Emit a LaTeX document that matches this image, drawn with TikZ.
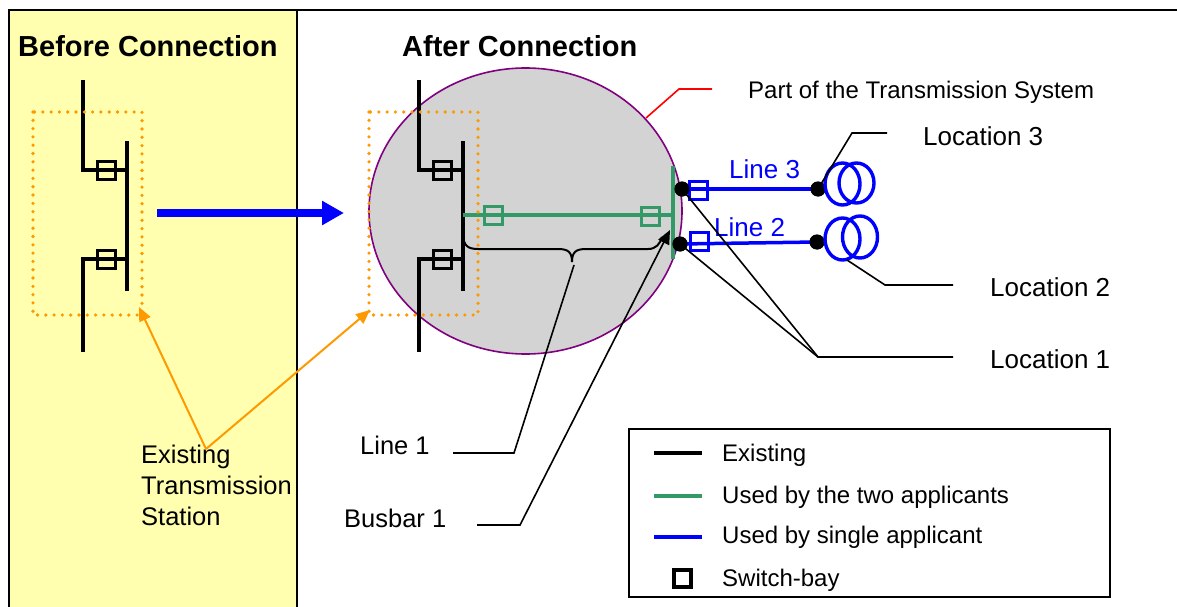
\documentclass[tikz,border=0pt]{standalone}
\usepackage{fontspec}
\setmainfont{Liberation Sans}
\usetikzlibrary{arrows.meta}
\definecolor{panelyellow}{RGB}{255,255,175}
\definecolor{tsgray}{RGB}{211,211,211}
\definecolor{tspurple}{RGB}{128,0,128}
\definecolor{usegreen}{RGB}{51,153,102}
\definecolor{exorange}{RGB}{255,153,0}
\begin{document}
\begin{tikzpicture}[x=1pt,y=-1pt,
  txt/.style={inner sep=0pt, anchor=base west, font=\fontsize{24}{31}\selectfont},
  midtxt/.style={inner sep=0pt, anchor=base west, font=\fontsize{25.5}{31}\selectfont},
  bigtxt/.style={inner sep=0pt, anchor=base west, font=\fontsize{26}{31}\selectfont},
  headtxt/.style={inner sep=0pt, anchor=base west, font=\fontsize{29}{35}\selectfont\bfseries},
  swb/.style={draw, line width=3pt, minimum width=18pt, minimum height=18pt, inner sep=0pt},
  swg/.style={swb, draw=usegreen},
  swu/.style={swb, draw=blue},
  exline/.style={line width=3.2pt},
  grline/.style={draw=usegreen, line width=3.5pt},
  buline/.style={draw=blue, line width=3.5pt},
  leader/.style={line width=1.6pt},
  dotbox/.style={draw=exorange, line width=3.6pt, line cap=round, dash pattern=on 0pt off 8.3pt},
  bigdot/.style={circle, fill=black, inner sep=0pt, minimum size=15pt},
  coil/.style={draw=blue, line width=3.4pt}
]
\useasboundingbox (0,0) rectangle (1177,607);
% panels and frame
\fill[panelyellow] (9,10) rectangle (297,607);
\draw[line width=2pt] (9,607) -- (9,10) -- (1177,10);
\draw[line width=2pt] (297,10) -- (297,607);

% headings
\node[headtxt] (hbefore) at (18,57) {Before Connection};
\node[headtxt] (hafter) at (402,57) {After Connection};

% transmission system ellipse
\draw[fill=tsgray, draw=tspurple, line width=1.6pt] (525.5,211) ellipse [x radius=156.5, y radius=143];

% station circuits (before and after)
\foreach \dx/\p in {0/b,336/a}{
  \begin{scope}[xshift=\dx]
    \coordinate (\p-t1) at (83,80);
    \coordinate (\p-t2) at (83,170);
    \coordinate (\p-t3) at (127,170);
    \coordinate (\p-l1) at (83,352);
    \coordinate (\p-l2) at (83,259);
    \coordinate (\p-l3) at (127,259);
    \coordinate (\p-bus1) at (127,141);
    \coordinate (\p-bus2) at (127,291);
    \draw[exline] (\p-t1) -- (\p-t2) -- (\p-t3);
    \draw[exline] (\p-l1) -- (\p-l2) -- (\p-l3);
    \draw[exline] (\p-bus1) -- (\p-bus2);
    \node[swb] (\p-sw1) at (106,170) {};
    \node[swb] (\p-sw2) at (106,259.5) {};
  \end{scope}
}

% green shared connection
\coordinate (gL) at (463,215);
\coordinate (gR) at (673,215);
\coordinate (gb1) at (673,166);
\coordinate (gb2) at (673,259);
\draw[grline] (gL) -- (gR);
\draw[grline] (gb1) -- (gb2);
\node[swg] (gsw1) at (493,215) {};
\node[swg] (gsw2) at (650,216) {};

% orange dotted station boxes
\draw[dotbox] (33,112) rectangle (142,315);
\draw[dotbox] (369,112) rectangle (478,315);

% brace (Line 1)
\draw[line width=2pt] (463,233) .. controls (463,246) and (468,249) .. (478,249) -- (558,249)
  .. controls (568,249) and (572,252) .. (572,262)
  .. controls (572,252) and (576,249) .. (586,249) -- (648,249)
  .. controls (656,249) and (660,244) .. (662,237);

% blue lines
\node[bigdot] (d3a) at (682,189) {};
\node[bigdot] (d2a) at (680,244) {};
\node[bigdot] (d3b) at (818,189) {};
\node[bigdot] (d2b) at (817,242) {};
\draw[buline] (d3a.center) -- (d3b.center);
\draw[buline] (d2a.center) -- (d2b.center);
\node[swu] (bsw3) at (698,190) {};
\node[swu] (bsw2) at (699,241) {};
\node[bigdot] at (d3a) {};
\node[bigdot] at (d2a) {};
\node[bigdot] at (d3b) {};
\node[bigdot] at (d2b) {};
\draw[coil] (842.5,184) ellipse [x radius=17.5, y radius=21];
\draw[coil] (856.5,183) ellipse [x radius=17.5, y radius=20];
\draw[coil] (842.5,239) ellipse [x radius=17.5, y radius=21];
\draw[coil] (860,237) ellipse [x radius=17.5, y radius=21];
\node[bigtxt, text=blue] (l3) at (729,178) {Line 3};
\node[bigtxt, text=blue] (l2) at (714,236) {Line 2};

% big blue arrow
\coordinate (baS) at (157,213);
\coordinate (baE) at (344,213);
\draw[blue, line width=8pt, -{Triangle[length=22pt, width=23pt]}] (baS) -- (baE);

% Existing transmission station label and arrows
\node[midtxt, align=left, anchor=north west] (exst) at (141,444.5) {Existing\\Transmission\\Station};
\coordinate (exA) at (206,449);
\coordinate (exT1) at (139,307);
\coordinate (exT2) at (370,310);
\draw[exorange, line width=2pt, -{Triangle[length=14pt, width=12pt]}] (exA) -- (exT1);
\draw[exorange, line width=2pt, -{Triangle[length=14pt, width=12pt]}] (exA) -- (exT2);

% Part of the transmission system
\node[txt] (pts) at (748,98.5) {Part of the Transmission System};
\coordinate (r1) at (646,118);
\coordinate (r2) at (679,89);
\coordinate (r3) at (712,89);
\draw[red, line width=1.6pt] (r1) -- (r2) -- (r3);

% Locations
\node[bigtxt] (loc3) at (923,145) {Location 3};
\node[bigtxt] (loc2) at (990,296) {Location 2};
\node[bigtxt] (loc1) at (990,368) {Location 1};
\coordinate (k3a) at (852,133);
\coordinate (k3b) at (887,133);
\draw[leader] (d3b.center) -- (k3a) -- (k3b);
\coordinate (k2s) at (847,260);
\coordinate (k2a) at (885,285);
\coordinate (k2b) at (953,285);
\draw[leader] (k2s) -- (k2a) -- (k2b);
\coordinate (k1a) at (818,357);
\coordinate (k1b) at (953,357);
\draw[leader] (d3a.center) -- (k1a) -- (k1b);
\draw[leader] (d2a.center) -- (k1a);

% Line 1 and Busbar 1
\node[midtxt] (line1) at (360,454) {Line 1};
\node[midtxt] (busbar1) at (344,527) {Busbar 1};
\coordinate (j1a) at (574,265);
\coordinate (j1b) at (514,453);
\coordinate (j1c) at (453,453);
\draw[leader] (j1a) -- (j1b) -- (j1c);
\coordinate (j2a) at (477,525);
\coordinate (j2b) at (520,525);
\coordinate (j2c) at (670,230);
\draw[leader, -{Triangle[length=14pt, width=12pt]}] (j2a) -- (j2b) -- (j2c);

% legend
\draw[line width=1.6pt] (629,429) rectangle (1110,597);
\coordinate (lg1a) at (654,453); \coordinate (lg1b) at (702,453);
\coordinate (lg2a) at (654,496); \coordinate (lg2b) at (702,496);
\coordinate (lg3a) at (654,537); \coordinate (lg3b) at (702,537);
\draw[exline] (lg1a) -- (lg1b);
\draw[grline] (lg2a) -- (lg2b);
\draw[buline] (lg3a) -- (lg3b);
\node[swb, line width=4pt, minimum width=17pt, minimum height=17pt] (lgsw) at (682.5,578) {};
\node[txt] (lgt1) at (722,461) {Existing};
\node[txt] (lgt2) at (722,503) {Used by the two applicants};
\node[txt] (lgt3) at (722,543.5) {Used by single applicant};
\node[txt] (lgt4) at (722,586) {Switch-bay};
\end{tikzpicture}
\end{document}
